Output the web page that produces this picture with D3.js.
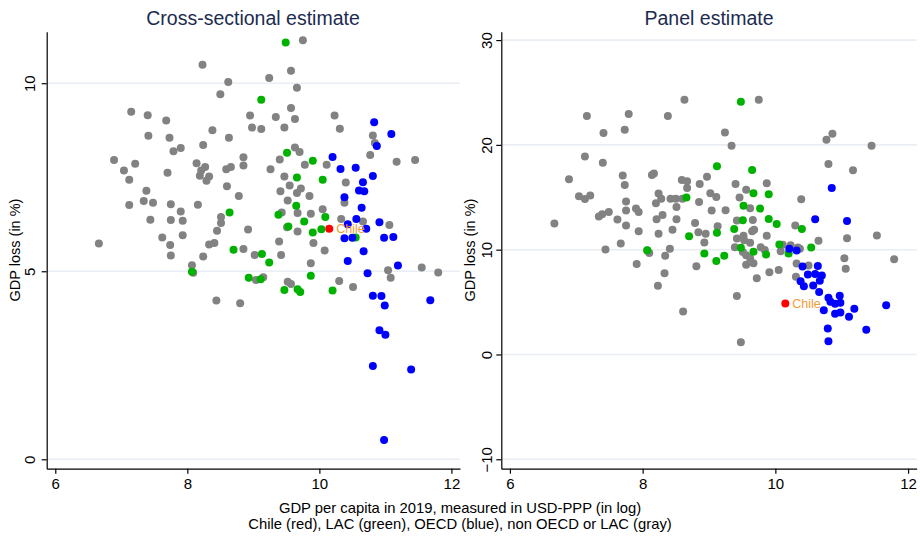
<!DOCTYPE html>
<html>
<head>
<meta charset="utf-8">
<script src="https://cdnjs.cloudflare.com/ajax/libs/d3/7.8.5/d3.min.js"></script>
<style>
  body { margin: 0; background: #fff; }
  svg { display: block; font-family: "Liberation Sans", Arial, sans-serif; }
</style>
</head>
<body>
<svg width="920" height="536"></svg>
<script>
// titles and tick labels
var titles = ["Cross-sectional estimate", "Panel estimate"];
var xTicks = [6, 8, 10, 12];
var crossYTicks = [0, 5, 10];
var panelYTicks = [-10, 0, 10, 20, 30];
var xTitle = "GDP per capita in 2019, measured in USD-PPP (in log)";
var noteTitle = "Chile (red), LAC (green), OECD (blue), non OECD or LAC (gray)";
var yTitle = "GDP loss (in %)";

// cross-sectional estimate: [log gdp pc, loss]
var crossGray = [[9.75,11.14],[8.23,10.49],[9.57,10.33],[8.62,10.03],[9.24,10.14],[9.66,9.88],[8.50,9.71],[7.15,9.24],[7.40,9.15],[7.68,9.01],[8.95,9.14],[9.34,9.10],[9.57,9.34],[9.63,9.05],[10.23,9.14],[8.98,8.82],[9.12,8.78],[9.47,8.82],[10.31,8.79],[10.81,8.61],[10.84,8.41],[7.41,8.60],[7.73,8.55],[8.38,8.75],[8.63,8.55],[8.24,8.36],[7.90,8.28],[7.79,8.19],[9.63,8.29],[9.70,8.17],[10.77,8.09],[11.17,7.91],[11.45,7.96],[6.89,7.96],[7.21,7.86],[7.04,7.68],[7.12,7.43],[7.70,7.62],[8.14,7.87],[8.27,7.77],[8.21,7.68],[8.19,7.54],[8.33,7.52],[8.29,7.41],[8.85,8.03],[8.85,7.81],[8.59,7.71],[8.66,7.77],[9.40,7.97],[9.26,7.71],[9.78,7.83],[10.11,7.83],[9.47,7.52],[8.60,7.26],[10.40,7.36],[9.55,7.28],[9.41,7.13],[9.72,7.20],[9.66,7.08],[9.85,7.00],[8.78,7.00],[7.38,7.14],[7.34,6.87],[7.48,6.82],[7.12,6.76],[7.75,6.78],[8.16,6.77],[9.52,6.88],[10.38,6.82],[7.90,6.59],[8.51,6.44],[8.51,6.28],[9.43,6.56],[9.67,6.55],[9.87,6.53],[10.05,6.65],[7.44,6.37],[7.75,6.36],[7.93,6.34],[10.33,6.39],[10.66,6.32],[11.06,6.23],[8.45,6.08],[8.92,6.11],[9.51,6.17],[9.67,6.06],[6.66,5.74],[7.62,5.90],[7.74,5.70],[7.93,5.96],[8.33,5.71],[8.41,5.75],[9.39,5.79],[9.91,5.75],[10.08,5.55],[7.75,5.42],[8.24,5.39],[8.85,5.59],[9.02,5.43],[9.42,5.43],[9.87,5.21],[8.07,5.16],[8.09,4.96],[11.04,5.03],[11.55,5.10],[11.80,4.97],[9.04,4.77],[9.15,4.84],[9.52,4.72],[9.57,4.66],[10.30,4.74],[10.51,4.58],[11.08,4.83],[8.44,4.22],[8.80,4.15]];
var crossGreen = [[9.49,11.08],[9.12,9.56],[9.51,8.15],[9.90,7.94],[9.66,7.49],[10.05,7.43],[9.65,6.74],[8.64,6.56],[9.38,6.50],[10.09,6.44],[9.77,6.32],[9.53,6.19],[9.90,6.03],[10.03,6.12],[10.55,5.90],[8.70,5.57],[9.13,5.46],[9.24,5.23],[8.07,4.99],[8.93,4.83],[9.11,4.79],[9.87,4.88],[9.47,4.50],[9.67,4.52],[9.71,4.45],[10.20,4.49]];
var crossBlue = [[10.83,8.96],[11.09,8.65],[10.87,8.33],[10.20,8.04],[10.32,7.72],[10.55,7.75],[10.81,7.53],[10.66,7.37],[10.60,7.15],[10.68,7.13],[10.38,6.97],[10.64,6.69],[10.43,6.25],[10.56,6.39],[10.91,6.30],[10.71,6.13],[10.38,5.88],[10.50,5.89],[10.98,5.89],[11.12,5.91],[10.67,5.53],[10.43,5.27],[11.19,5.15],[10.73,4.95],[10.81,4.35],[10.94,4.34],[10.99,4.09],[11.68,4.23],[10.91,3.43],[11.00,3.31],[10.81,2.48],[11.39,2.39],[10.98,0.51]];
var crossChile = [[10.15,6.13]];

// panel estimate
var panelGray = [[8.63,24.31],[9.75,24.31],[7.16,22.75],[7.79,22.95],[8.38,22.75],[7.41,21.13],[7.73,21.45],[9.24,21.19],[9.34,19.92],[10.77,20.50],[10.86,21.07],[11.45,19.92],[7.13,18.90],[7.40,18.30],[10.80,18.18],[11.17,17.57],[6.89,16.71],[7.70,17.09],[7.73,16.18],[8.14,17.13],[8.17,17.28],[8.59,16.65],[8.67,16.52],[8.67,15.89],[8.97,16.97],[8.86,16.27],[9.40,16.27],[9.56,15.73],[9.87,16.33],[7.04,15.09],[7.13,14.84],[7.21,15.16],[8.24,15.35],[8.28,14.87],[8.42,14.87],[8.50,14.87],[8.60,14.87],[9.02,15.38],[9.11,15.03],[8.85,14.56],[8.20,14.42],[7.75,14.59],[9.46,14.97],[10.39,14.80],[8.51,14.08],[9.04,13.73],[9.25,13.76],[9.62,13.95],[7.34,13.16],[7.39,13.37],[7.49,13.60],[7.90,13.92],[7.94,13.60],[7.62,12.87],[7.75,12.30],[8.21,12.90],[8.30,13.32],[8.51,12.90],[8.79,12.55],[9.13,12.23],[9.42,12.79],[9.66,12.82],[10.30,12.30],[7.94,11.75],[8.24,11.51],[8.45,11.89],[8.84,11.66],[8.95,11.51],[8.93,10.68],[9.42,11.06],[9.52,11.32],[9.53,10.90],[9.68,11.89],[9.65,11.75],[9.62,10.65],[9.87,11.32],[10.65,10.85],[11.08,11.09],[11.53,11.36],[6.67,12.49],[7.67,10.58],[7.44,10.01],[8.10,9.69],[8.07,9.91],[8.41,10.08],[8.34,9.41],[9.39,10.22],[9.51,9.79],[9.56,9.47],[9.62,9.18],[9.67,8.70],[9.56,8.55],[9.78,10.23],[9.84,9.96],[10.11,10.46],[10.23,10.42],[10.08,9.84],[10.34,10.20],[10.37,10.08],[11.04,9.18],[11.79,9.08],[7.91,8.63],[8.81,8.41],[10.32,8.69],[10.50,8.48],[11.06,8.17],[8.33,7.75],[8.23,6.55],[9.91,7.85],[10.05,8.06],[9.72,7.27],[9.42,5.58],[8.61,4.10],[9.48,1.17],[10.31,7.41],[7.75,13.73]];
var panelGreen = [[9.48,24.12],[9.12,17.95],[9.65,17.61],[9.67,15.38],[9.90,15.30],[8.66,14.99],[9.52,14.20],[9.77,13.92],[9.51,12.80],[9.90,12.92],[10.02,12.44],[10.40,11.98],[8.70,11.27],[9.12,11.61],[9.38,11.98],[8.07,9.94],[8.93,9.63],[9.11,8.93],[9.23,9.42],[9.48,10.18],[9.67,9.80],[9.86,9.53],[10.06,10.49],[10.20,9.63],[10.54,10.20]];
var panelBlue = [[10.85,15.89],[10.60,12.90],[11.08,12.73],[10.21,10.08],[10.32,9.91],[10.41,8.39],[10.64,8.44],[10.49,7.63],[10.60,7.69],[10.70,7.53],[10.67,7.03],[10.38,6.99],[10.43,6.51],[10.57,6.58],[10.66,5.96],[10.80,5.41],[10.83,5.02],[10.90,4.83],[10.97,5.61],[10.98,4.93],[11.19,4.36],[11.11,3.59],[10.90,3.88],[10.98,4.00],[10.73,4.22],[10.79,2.48],[10.80,1.26],[11.37,2.35],[11.67,4.70]];
var panelChile = [[10.15,4.86]];

var colors = { gray: "#828282", green: "#00b200", blue: "#0000ff", red: "#ff0000" };

var svg = d3.select("svg");

function drawPanel(p) {
    var x = d3.scaleLinear().domain([5.87, 12.13]).range([p.left, p.right]);
    var y = d3.scaleLinear().domain(p.yDomain).range([468.7, 31.7]);

    var g = svg.append("g");

    // grid lines
    g.selectAll(".grid")
        .data(p.yTicks)
        .enter()
        .append("line")
        .attr("x1", p.left)
        .attr("x2", p.right)
        .attr("y1", function(d) { return y(d); })
        .attr("y2", function(d) { return y(d); })
        .attr("stroke", "#e8eef3")
        .attr("stroke-width", 1.6);

    var yAxis = g.append("g")
        .attr("transform", "translate(" + p.left + ",0)")
        .call(d3.axisLeft(y).tickValues(p.yTicks).tickSize(5).tickSizeOuter(0).tickFormat(d3.format("d")));
    yAxis.selectAll("text")
        .attr("transform", "rotate(-90)")
        .attr("text-anchor", "middle")
        .attr("x", 0)
        .attr("y", p.tickOff)
        .attr("dy", 0)
        .style("font-size", "15px")
        .style("font-family", "Liberation Sans, Arial, sans-serif")
        .attr("fill", "#000");

    var xAxis = g.append("g")
        .attr("transform", "translate(0,468.7)")
        .call(d3.axisBottom(x).tickValues(xTicks).tickSize(5).tickSizeOuter(0).tickFormat(d3.format("d")));
    xAxis.selectAll("text")
        .attr("y", 10)
        .attr("dy", "0.71em")
        .style("font-size", "15px")
        .style("font-family", "Liberation Sans, Arial, sans-serif")
        .attr("fill", "#000");

    g.selectAll(".domain, .tick line").attr("stroke", "#000").attr("stroke-width", 1.2);

    // points, gray first
    var groups = [[p.gray, colors.gray], [p.green, colors.green], [p.blue, colors.blue], [p.chile, colors.red]];
    groups.forEach(function(grp) {
        g.append("g")
            .selectAll("circle")
            .data(grp[0])
            .enter()
            .append("circle")
            .attr("cx", function(d) { return x(d[0]); })
            .attr("cy", function(d) { return y(d[1]); })
            .attr("r", 4)
            .attr("fill", grp[1]);
    });

    g.selectAll(".chile")
        .data(p.chile)
        .enter()
        .append("text")
        .attr("x", function(d) { return x(d[0]) + 7; })
        .attr("y", function(d) { return y(d[1]) + 4.5; })
        .text("Chile")
        .style("font-size", "12.5px")
        .attr("fill", "#f39c34");

    // panel title
    g.append("text")
        .attr("x", p.titleX)
        .attr("y", 25)
        .attr("text-anchor", "middle")
        .style("font-size", "19.5px")
        .attr("fill", "#1c2b50")
        .text(p.title);

    // y title
    g.append("text")
        .attr("transform", "translate(" + p.yTitleX + ",250) rotate(-90)")
        .attr("text-anchor", "middle")
        .style("font-size", "14.5px")
        .attr("fill", "#000")
        .text(yTitle);
}

drawPanel({
    left: 46.7, right: 460, yDomain: [-0.25, 11.37], yTicks: crossYTicks,
    gray: crossGray, green: crossGreen, blue: crossBlue, chile: crossChile,
    title: titles[0], titleX: 253, yTitleX: 20, tickOff: -11.5
});
drawPanel({
    left: 501.3, right: 916.7, yDomain: [-10.9, 30.8], yTicks: panelYTicks,
    gray: panelGray, green: panelGreen, blue: panelBlue, chile: panelChile,
    title: titles[1], titleX: 709, yTitleX: 475, tickOff: -9.5
});

svg.append("text")
    .attr("x", 460).attr("y", 513)
    .attr("text-anchor", "middle")
    .style("font-size", "14.8px")
    .text(xTitle);
svg.append("text")
    .attr("x", 460).attr("y", 529)
    .attr("text-anchor", "middle")
    .style("font-size", "14.8px")
    .text(noteTitle);
</script>
</body>
</html>
